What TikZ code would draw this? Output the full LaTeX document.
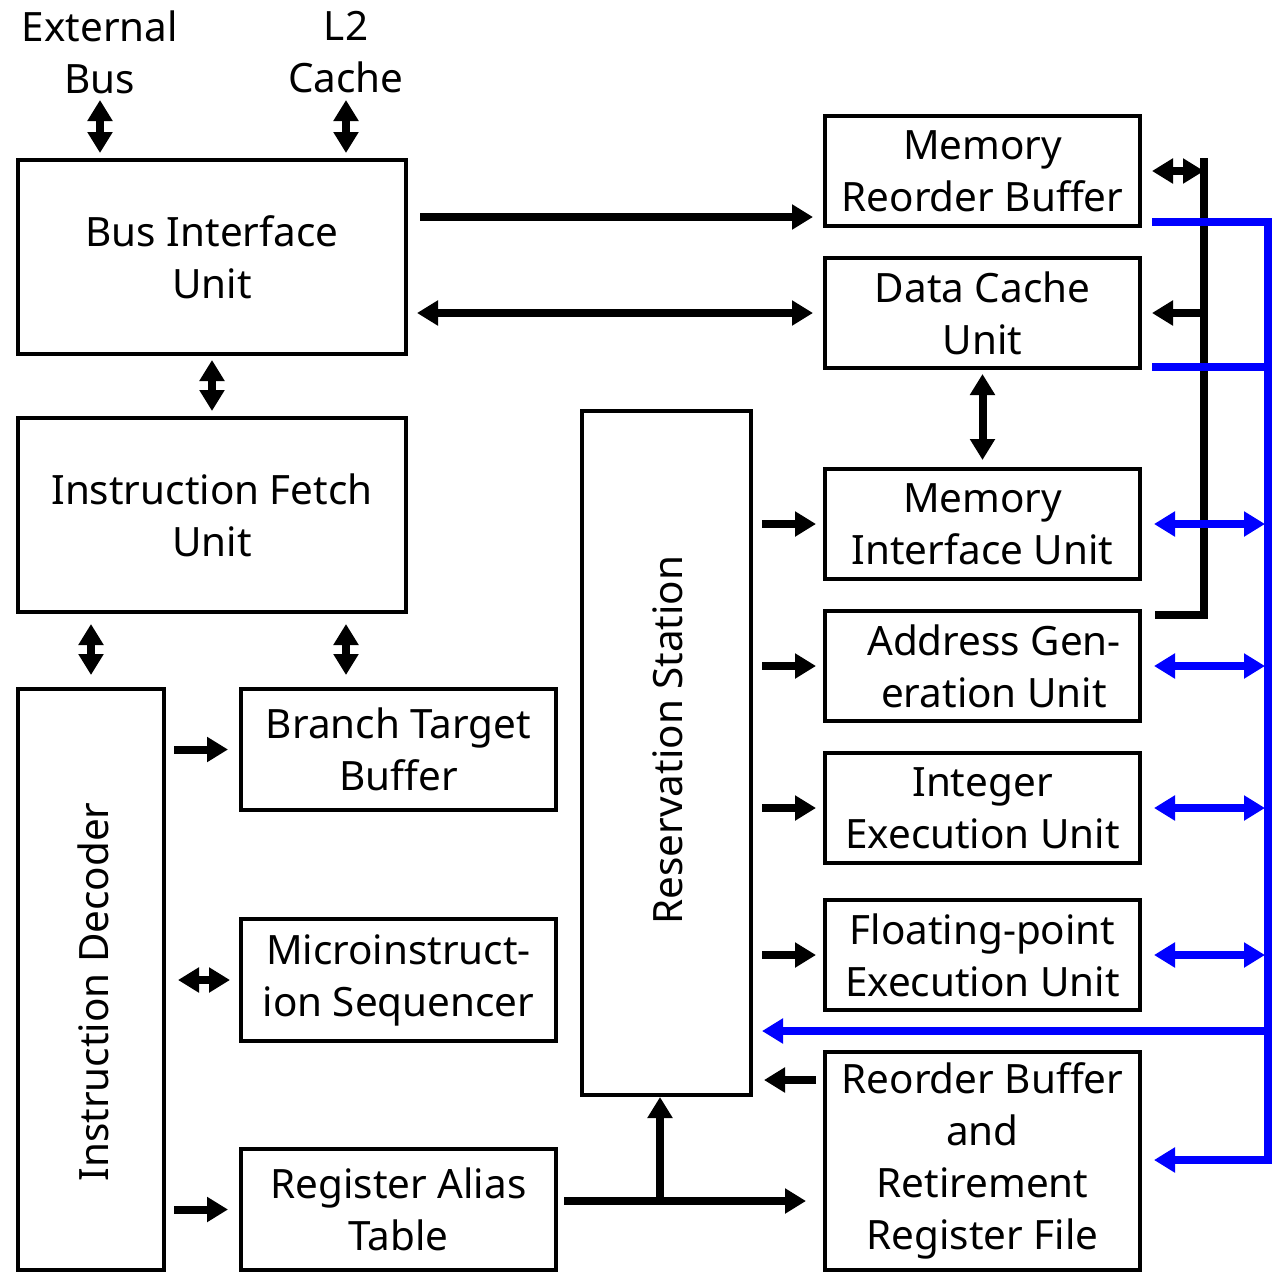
\documentclass[tikz,border=0pt]{standalone}
\usepackage{fontspec}
\setmainfont{Noto Sans}
\usepackage{tikz}
\usetikzlibrary{arrows.meta}
\tikzset{>={Triangle[width=2.4mm,length=2.1mm]}}
\tikzset{
  unit/.style={draw, line width=0.4mm, minimum width=31.5mm, minimum height=11mm, align=center, inner sep=0pt},
  bigunit/.style={unit, minimum width=38.8mm, minimum height=19.4mm},
  bus/.style={line width=0.8mm},
  bluebus/.style={line width=0.8mm, blue},
}

\begin{document}
\begin{tikzpicture}[x=0.1mm, y=-0.1mm, font=\fontsize{11.5}{14.8}\selectfont]
\useasboundingbox (0,0) rectangle (1280,1280);

\node[align=center] (ext) at (100,52) {External\\Bus};
\node[align=center] (l2) at (346,52) {L2\\Cache};

\node[bigunit] (biu) at (212,257) {Bus Interface\\Unit};
\node[bigunit] (ifu) at (212,515) {Instruction Fetch\\Unit};
\node[unit, minimum width=14.6mm, minimum height=58.1mm] (idec) at (91,979.5) {};
\node[rotate=90] (ideclabel) at (93,992) {Instruction Decoder};
\node[unit, minimum height=12.1mm] (btb) at (398.5,749.5) {Branch Target\\Buffer};
\node[unit, minimum height=12.2mm] (mis) at (398.5,980) {Microinstruct-\\ion Sequencer};
\node[unit, minimum height=12.1mm] (rat) at (398.5,1209.5) {Register Alias\\Table};

\node[unit, minimum width=16.9mm, minimum height=68.4mm] (rs) at (666.5,753) {};
\node[rotate=90] (rslabel) at (668,740) {Reservation Station};

\node[unit] (mrb) at (982.5,171) {Memory\\Reorder Buffer};
\node[unit] (dcu) at (982.5,313) {Data Cache\\Unit};
\node[unit] (miu) at (982.5,524) {Memory\\Interface Unit};
\node[unit] (agu) at (982.5,666) {\hspace*{2.3mm}Address Gen-\\\hspace*{2.3mm}eration Unit};
\node[unit] (ieu) at (982.5,808) {Integer\\Execution Unit};
\node[unit] (feu) at (982.5,955) {Floating-point\\Execution Unit};
\node[unit, minimum height=21.8mm] (rob) at (982.5,1161) {Reorder Buffer\\and\\Retirement\\Register File};

% front end
\draw[bus,<->,shorten <=4.8mm,shorten >=0.5mm] (ext.center) -- (ext |- biu.north);
\draw[bus,<->,shorten <=4.8mm,shorten >=0.5mm] (l2.center) -- (l2 |- biu.north);
\draw[bus,<->,shorten <=0.4mm,shorten >=0.5mm] (biu.south) -- (ifu.north);
\draw[bus,<->,shorten <=1mm,shorten >=1.2mm] (idec.north |- ifu.south) -- (idec.north);
\draw[bus,<->,shorten <=1mm,shorten >=1.2mm] (l2 |- ifu.south) -- (l2 |- btb.north);
\draw[bus,->,shorten <=0.8mm,shorten >=1.1mm] (idec.east |- btb) -- (btb.west);
\draw[bus,<->,shorten <=1.2mm,shorten >=0.9mm] (idec.east |- mis) -- (mis.west);
\draw[bus,->,shorten <=0.8mm,shorten >=1.1mm] (idec.east |- rat) -- (rat.west);

% bus interface to memory side
\coordinate (mrbin) at ([yshift=1.1mm]mrb.south west);
\draw[bus,->,shorten <=1.2mm,shorten >=1mm] (biu.east |- mrbin) -- (mrbin);
\draw[bus,<->,shorten <=0.9mm,shorten >=1mm] (biu.east |- dcu) -- (dcu.west);
\draw[bus,<->,shorten <=0.4mm,shorten >=0.7mm] (dcu.south) -- (miu.north);

% reservation station
\foreach \u in {miu,agu,ieu,feu}
  \draw[bus,->,shorten <=0.9mm,shorten >=0.7mm] (rs.east |- \u) -- (\u.west);
\coordinate (robout) at ([yshift=-3mm]rob.north west);
\draw[bus,->,shorten <=0.7mm,shorten >=1.1mm] (robout) -- (robout -| rs.east);
\coordinate (ratout) at ([yshift=0.85mm]rat.east);
\draw[bus,->,shorten <=0.6mm,shorten >=1.7mm] (ratout) -- (ratout -| rob.west);
\coordinate (split) at (660,1201);
\draw[bus,->] (split) -- (split |- rs.south);

% black bus
\coordinate (bustop) at (1204,158);
\coordinate (busbot) at (1204,615);
\coordinate (busend) at (1155,615);
\draw[bus] (bustop) -- (busbot) -- (busend);
\draw[bus,<->,shorten <=1mm] (mrb.east) -- (mrb.east -| bustop);
\draw[bus,->,shorten >=1mm] (dcu.east -| bustop) -- (dcu.east);

% blue bus
\coordinate (bluebot) at (1268,1160);
\draw[bluebus,->,shorten >=1.2mm] ([xshift=1mm,yshift=0.6mm]mrb.south east) -| (bluebot) -- (bluebot -| rob.east);
\coordinate (dcublue) at ([xshift=1mm,yshift=0.3mm]dcu.south east);
\draw[bluebus] (dcublue) -- (dcublue -| bluebot);
\foreach \u in {miu,agu,ieu,feu}
  \draw[bluebus,<->,shorten <=1.2mm,shorten >=0.3mm] (\u.east) -- (\u.east -| bluebot);
\coordinate (blueret) at (1268,1031);
\draw[bluebus,->,shorten >=0.9mm] (blueret) -- (blueret -| rs.east);
\end{tikzpicture}
\end{document}
